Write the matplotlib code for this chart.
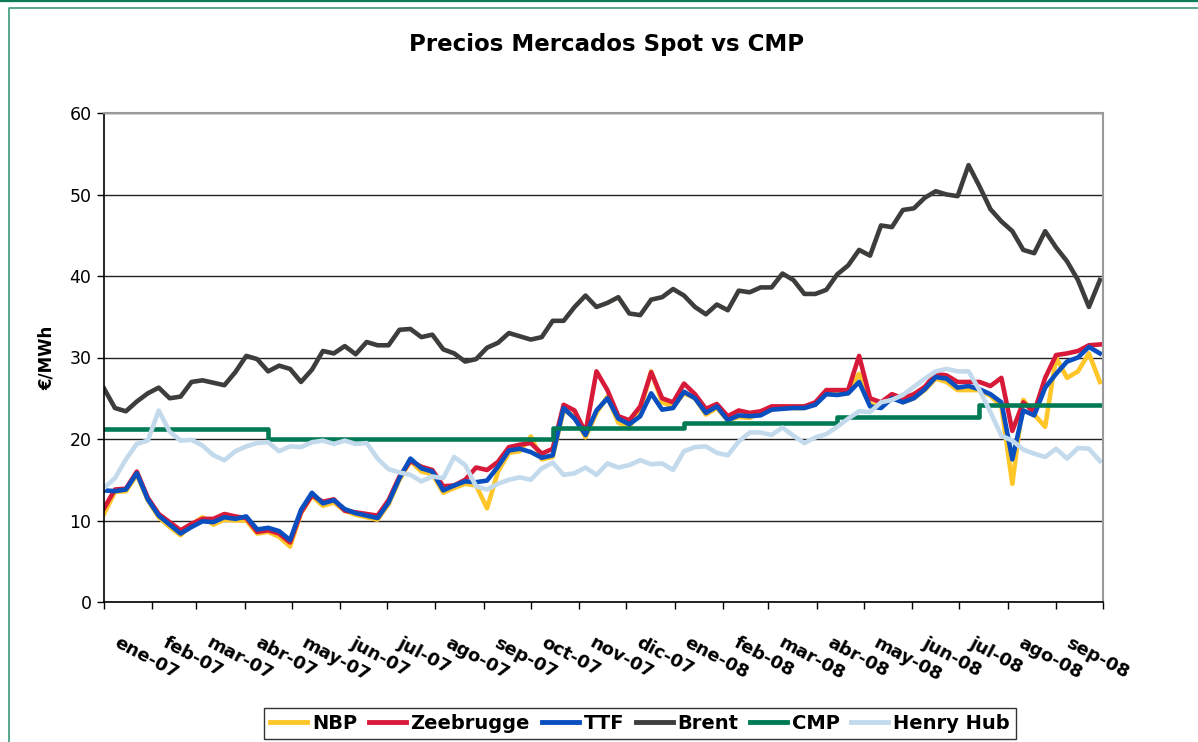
import numpy as np
import pandas as pd
import matplotlib
matplotlib.use("Agg")
import matplotlib.pyplot as plt
from matplotlib.lines import Line2D

# weekly samples (EUR/MWh)
weeks = pd.date_range("2007-01-01", periods=92, freq="7D")

nbp = [10.8, 13.5, 13.6, 15.6, 12.5, 10.4, 9.2, 8.2, 9.5, 10.4,
       9.5, 10.1, 10.0, 10.0, 8.4, 8.6, 8.0, 6.8, 10.9, 13.0,
       11.8, 12.2, 11.2, 10.7, 10.4, 10.1, 12.0, 15.0, 17.3, 16.0,
       15.7, 13.4, 14.0, 14.5, 14.3, 11.5, 16.0, 18.3, 18.5, 20.3,
       17.5, 17.8, 23.5, 22.8, 20.2, 23.2, 25.2, 22.0, 21.5, 23.5,
       28.3, 24.5, 24.0, 25.6, 25.0, 23.0, 23.8, 22.3, 22.7, 22.6,
       23.2, 23.6, 24.0, 23.8, 23.8, 24.3, 25.7, 25.6, 26.0, 28.0,
       24.3, 24.0, 25.2, 24.5, 25.0, 26.0, 27.4, 27.0, 26.0, 26.0,
       26.0, 25.3, 24.0, 14.5, 24.8, 23.0, 21.5, 30.0, 27.5, 28.3,
       30.5, 27.0]

zeebrugge = [11.5, 13.8, 13.9, 16.0, 12.8, 10.8, 9.8, 8.8, 9.6, 10.2,
             10.2, 10.8, 10.5, 10.3, 8.6, 8.8, 8.4, 7.3, 11.0, 13.1,
             12.3, 12.6, 11.2, 11.0, 10.8, 10.6, 12.5, 15.4, 17.3, 16.6,
             16.2, 14.2, 14.3, 15.0, 16.5, 16.2, 17.2, 19.0, 19.3, 19.5,
             18.2, 18.8, 24.2, 23.5, 20.8, 28.3, 26.0, 22.8, 22.3, 24.0,
             28.2, 25.0, 24.5, 26.8, 25.5, 23.7, 24.3, 22.8, 23.5, 23.2,
             23.4, 24.0, 24.0, 24.0, 24.0, 24.5, 26.0, 26.0, 26.0, 30.2,
             25.0, 24.5, 25.5, 25.0, 25.5, 26.4, 28.0, 27.8, 27.0, 27.0,
             27.0, 26.5, 27.5, 21.0, 24.5, 23.3, 27.5, 30.3, 30.5, 30.8,
             31.5, 31.6]

ttf = [13.7, 13.6, 13.8, 15.8, 12.6, 10.6, 9.5, 8.4, 9.2, 9.9,
       9.8, 10.4, 10.2, 10.5, 8.9, 9.1, 8.7, 7.6, 11.3, 13.4,
       12.1, 12.5, 11.4, 10.9, 10.6, 10.3, 12.2, 15.2, 17.6, 16.4,
       16.0, 13.7, 14.3, 14.8, 14.7, 14.9, 16.6, 18.6, 18.8, 18.4,
       17.7, 18.0, 23.8, 22.5, 20.5, 23.5, 25.0, 22.5, 21.8, 22.8,
       25.6, 23.6, 23.8, 25.8, 25.0, 23.2, 24.0, 22.3, 22.9, 22.8,
       22.9, 23.6, 23.7, 23.8, 23.8, 24.2, 25.5, 25.4, 25.6, 27.0,
       24.0, 23.8, 25.0, 24.5, 25.0, 26.1, 27.6, 27.4, 26.3, 26.5,
       26.1, 25.5, 24.5, 17.5, 23.5, 22.9, 26.3, 28.0, 29.5, 30.0,
       31.3, 30.5]

brent = [26.2, 23.8, 23.4, 24.6, 25.6, 26.3, 25.0, 25.2, 27.0, 27.2,
         26.9, 26.6, 28.2, 30.2, 29.8, 28.3, 29.0, 28.6, 27.0, 28.5,
         30.8, 30.5, 31.4, 30.4, 31.9, 31.5, 31.5, 33.4, 33.5, 32.5,
         32.8, 31.0, 30.5, 29.5, 29.8, 31.2, 31.8, 33.0, 32.6, 32.2,
         32.5, 34.5, 34.5, 36.2, 37.6, 36.2, 36.7, 37.4, 35.4, 35.2,
         37.1, 37.4, 38.4, 37.6, 36.2, 35.3, 36.5, 35.8, 38.2, 38.0,
         38.6, 38.6, 40.3, 39.5, 37.8, 37.8, 38.3, 40.2, 41.3, 43.2,
         42.5, 46.2, 46.0, 48.1, 48.3, 49.6, 50.4, 50.0, 49.8, 53.6,
         51.0, 48.2, 46.7, 45.5, 43.2, 42.8, 45.5, 43.5, 41.8, 39.5,
         36.2, 39.5]

cmp_ = [21.2] * 15 + [20.0] * 26 + [21.3] * 12 + [22.0] * 14 + [22.7] * 13 + [24.2] * 12

henry_hub = [14.0, 15.2, 17.5, 19.4, 19.8, 23.5, 20.9, 19.8, 19.9, 19.2,
             18.0, 17.4, 18.5, 19.1, 19.5, 19.6, 18.5, 19.1, 19.0, 19.6,
             19.8, 19.4, 19.8, 19.4, 19.5, 17.6, 16.3, 15.9, 15.6, 14.8,
             15.4, 15.2, 17.8, 16.8, 14.2, 13.8, 14.5, 15.0, 15.3, 15.0,
             16.4, 17.1, 15.6, 15.8, 16.5, 15.6, 17.0, 16.5, 16.8, 17.4,
             16.9, 17.0, 16.2, 18.5, 19.0, 19.1, 18.3, 18.0, 19.7, 20.8,
             20.8, 20.5, 21.4, 20.4, 19.5, 20.2, 20.6, 21.5, 22.5, 23.4,
             23.3, 24.5, 24.8, 25.4, 26.4, 27.4, 28.3, 28.6, 28.3, 28.3,
             26.0, 23.3, 20.4, 19.8, 18.7, 18.2, 17.8, 18.8, 17.6, 18.9,
             18.8, 17.3]

month_labels = ["ene-07", "feb-07", "mar-07", "abr-07", "may-07", "jun-07",
                "jul-07", "ago-07", "sep-07", "oct-07", "nov-07", "dic-07",
                "ene-08", "feb-08", "mar-08", "abr-08", "may-08", "jun-08",
                "jul-08", "ago-08", "sep-08"]

fig = plt.figure(figsize=(11.98, 7.42), dpi=100)
ax = fig.add_axes([104 / 1198, 140 / 742, 999 / 1198, 489 / 742])

lw = 3.3
ax.plot(weeks, nbp, color="#FFC629", lw=lw, label="NBP", solid_joinstyle="round")
ax.plot(weeks, zeebrugge, color="#D7193A", lw=lw, label="Zeebrugge", solid_joinstyle="round")
ax.plot(weeks, ttf, color="#0A4FBF", lw=lw, label="TTF", solid_joinstyle="round")
ax.plot(weeks, brent, color="#3D3D3B", lw=lw, label="Brent", solid_joinstyle="round")
ax.plot(weeks, cmp_, color="#007A55", lw=lw, label="CMP", drawstyle="steps-post")
ax.plot(weeks, henry_hub, color="#C3DAEC", lw=lw, label="Henry Hub", solid_joinstyle="round")

ax.set_xlim(pd.Timestamp("2007-01-01"), pd.Timestamp("2008-10-01"))
ax.set_ylim(0, 60)
ax.set_yticks(range(0, 61, 10))
ax.yaxis.grid(True, color="#222222", lw=1.0)
ax.set_axisbelow(True)

# tick marks at month starts, labels on invisible minor ticks a few days later
month_ticks = pd.date_range("2007-01-01", "2008-10-01", freq="MS")
ax.set_xticks(month_ticks)
ax.set_xticklabels([])
label_pos = month_ticks[:-1] + pd.Timedelta(days=10)
ax.set_xticks(label_pos, minor=True)
ax.set_xticklabels(month_labels, minor=True, rotation=-28, ha="left", va="top",
                   rotation_mode="anchor", fontsize=13, fontweight="bold")

ax.tick_params(axis="x", which="major", direction="out", length=5, width=1)
ax.tick_params(axis="x", which="minor", length=0, pad=23)
ax.tick_params(axis="y", direction="out", length=5, width=1, labelsize=12.5, pad=4)

for s in ["left", "bottom"]:
    ax.spines[s].set_color("black")
    ax.spines[s].set_linewidth(1.2)
for s in ["top", "right"]:
    ax.spines[s].set_color("#9A9A9A")
    ax.spines[s].set_linewidth(1.5)

ax.set_ylabel("€/MWh", fontsize=12, fontweight="bold", labelpad=10)
fig.text(607 / 1198, 1 - 45 / 742, "Precios Mercados Spot vs CMP", ha="center",
         va="center", fontsize=16.5, fontweight="bold")

leg = fig.legend(loc="lower center", bbox_to_anchor=(640 / 1198, 3 / 742), ncol=6,
                 frameon=True, fancybox=False, edgecolor="black",
                 prop={"weight": "bold", "size": 14}, handlelength=1.9,
                 handletextpad=0.25, columnspacing=0.6, borderpad=0.3,
                 borderaxespad=0)
leg.get_frame().set_linewidth(1.0)
for h in leg.get_lines():
    h.set_linewidth(3.5)

# green chart frame
fig.add_artist(Line2D([0, 1], [1 - 0.8 / 742, 1 - 0.8 / 742], transform=fig.transFigure,
                      color="#0E7A5A", lw=1.6))
fig.add_artist(Line2D([8.5 / 1198, 8.5 / 1198, 1], [0, 1 - 7.5 / 742, 1 - 7.5 / 742],
                      transform=fig.transFigure, color="#3A9A7A", lw=1.2))

fig.savefig("out.png", dpi=100)
